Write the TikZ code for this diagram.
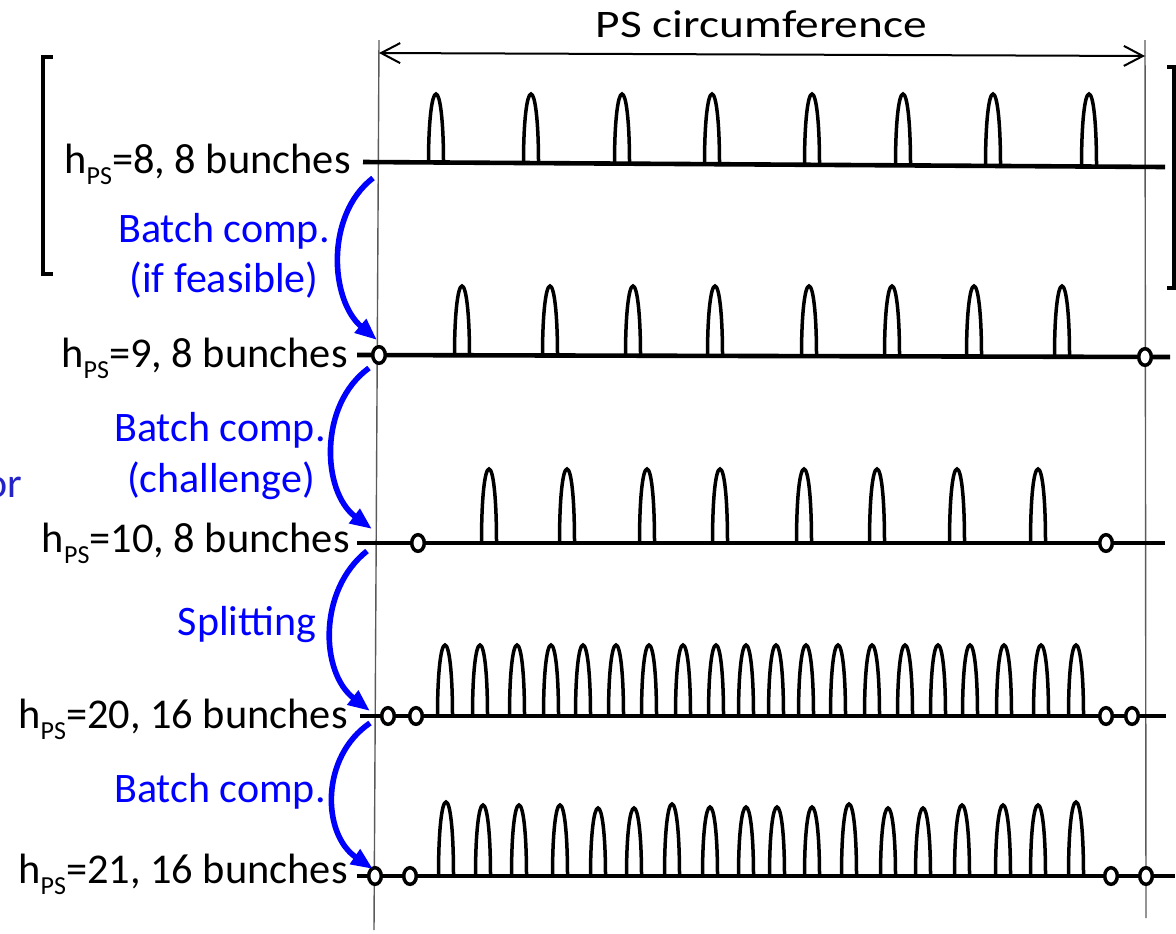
\documentclass[tikz,border=0pt]{standalone}
\usepackage{fontspec}
\setmainfont{Carlito}
\usetikzlibrary{arrows.meta}
\definecolor{ablue}{RGB}{0,0,255}
\definecolor{orblue}{RGB}{35,35,200}
\definecolor{vgray}{RGB}{90,90,90}
\newcommand\hps[1]{h\raisebox{-5.5pt}{\fontsize{13}{15}\selectfont PS}=#1}
\newcommand\pulse[3]{\draw[pulseline] ({#1-7.5},#2) .. controls ({#1-7.5},{#3+26}) and ({#1-4},#3) .. (#1,#3) .. controls ({#1+4},#3) and ({#1+7.5},{#3+26}) .. ({#1+7.5},#2);}
\tikzset{
  pulseline/.style={line width=1.75pt},
  rowline/.style={line width=2.3pt},
  lbl/.style={anchor=base east, inner sep=0pt, font=\fontsize{21.2}{25}\selectfont},
  btxt/.style={anchor=base, inner sep=0pt, text=ablue, font=\fontsize{21}{25}\selectfont},
  barrow/.style={draw=ablue, line width=2.8pt, -{Triangle[length=11pt,width=8.5pt]}},
  vline/.style={draw=vgray, line width=0.7pt},
  brack/.style={line width=2.2pt}
}
\newcommand\gapc[3]{\coordinate (#1) at (#2,#3); \draw[line width=1.75pt, fill=white] (#1) ellipse [x radius=6.3, y radius=8.3];}
\begin{document}
\begin{tikzpicture}[x=0.5pt,y=-0.5pt]
\useasboundingbox (0,0) rectangle (1176,933);
% vertical reference lines
\coordinate (LT) at (379,40); \coordinate (LB) at (374,930);
\coordinate (RT) at (1145,40); \coordinate (RB) at (1146,918);
\draw[vline] (LT) -- (LB);
\draw[vline] (RT) -- (RB);
% circumference arrow
\coordinate (AL) at (379,53); \coordinate (AR) at (1145,56);
\draw[line width=1pt, {Straight Barb[length=9.5pt,width=10pt]}-{Straight Barb[length=9.5pt,width=10pt]}] (AL) -- (AR);
\node[inner sep=0pt, anchor=base, font=\fontsize{19.5}{23}\selectfont] (title) at (761.5,37) {\resizebox{165.5pt}{\height}{PS circumference}};
% brackets
\draw[brack] (53,57) -- (43,57) -- (43,274) -- (53,274);
\draw[brack] (1167,67) -- (1174,67) -- (1174,288) -- (1167,288);
% rows
\draw[rowline] (363,162) -- (1165,167);
\draw[rowline] (357,355) -- (1170,357);
\draw[rowline] (357,543) -- (1165,543);
\draw[rowline] (360,716) -- (1166,716);
\draw[rowline] (357,876) -- (1175,876);
% row 1 pulses
\foreach \x/\b in {436/162.5,531/163,622/163.6,712/164.2,812/164.8,903/165.4,993/166,1089/166.5}{\pulse{\x}{\b}{94}}
% row 2
\foreach \x in {462,550,633,715,809,892,974,1062}{\pulse{\x}{356}{286}}
% row 3
\foreach \x in {489,567,647,720,804,877,957,1038}{\pulse{\x}{543}{469}}
% row 4
\foreach \x in {445,480,517,551,583,616,649,683,716,746,776,806,838,872,905,938,970,1004,1041,1076}{\pulse{\x}{716}{645}}
% row 5
\foreach \x/\t in {446/802,483/805,519/805,560/805,598/808,634/808,672/804,710/807,746/807,777/807,812/807,849/804,888/808,923/808,962/805,1003/805,1038/805,1076/802}{\pulse{\x}{876}{\t}}
% gap markers
\gapc{g2a}{379}{355} \gapc{g2b}{1145}{357}
\gapc{g3a}{418}{543} \gapc{g3b}{1106}{543}
\gapc{g4a}{388}{716} \gapc{g4b}{416}{716} \gapc{g4c}{1106}{716} \gapc{g4d}{1132}{716}
\gapc{g5a}{375}{876} \gapc{g5b}{410}{876} \gapc{g5c}{1111}{876} \gapc{g5d}{1146}{876}
% labels
\node[lbl] (l1) at (351,173) {\hps{8}, 8 bunches};
\node[lbl] (l2) at (348,367) {\hps{9}, 8 bunches};
\node[lbl] (l3) at (350,552) {\hps{10}, 8 bunches};
\node[lbl] (l4) at (348,728) {\hps{20}, 16 bunches};
\node[lbl] (l5) at (348,883) {\hps{21}, 16 bunches};
% blue texts
\node[btxt] (b1a) at (224,242) {Batch comp.};
\node[btxt] (b1b) at (224,292) {(if feasible)};
\node[btxt] (b2a) at (220,441) {Batch comp.};
\node[btxt] (b2b) at (221,492) {(challenge)};
\node[btxt] (b3) at (247,635) {Splitting};
\node[btxt] (b4) at (220,802) {Batch comp.};
\node[anchor=base east, inner sep=0pt, text=orblue, font=\fontsize{21}{25}\selectfont] (or) at (23,497) {or};
% blue arrows
\coordinate (s1) at (373,178); \coordinate (e1) at (377,340);
\coordinate (s2) at (369,368); \coordinate (e2) at (372,529);
\coordinate (s3) at (367,551); \coordinate (e3) at (370,711);
\coordinate (s4) at (370,723); \coordinate (e4) at (373,869);
\draw[barrow] (s1) .. controls (325,215) and (330,300) .. (e1);
\draw[barrow] (s2) .. controls (318,405) and (322,492) .. (e2);
\draw[barrow] (s3) .. controls (318,590) and (320,672) .. (e3);
\draw[barrow] (s4) .. controls (320,757) and (322,834) .. (e4);
\end{tikzpicture}
\end{document}
